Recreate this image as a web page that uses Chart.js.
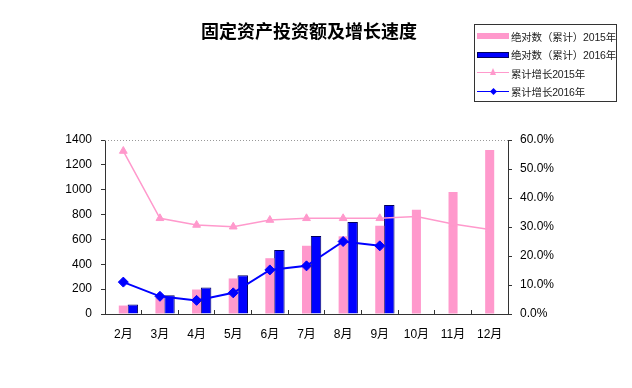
<!DOCTYPE html>
<html>
<head>
<meta charset="utf-8">
<script src="https://cdn.jsdelivr.net/npm/chart.js@4/dist/chart.umd.min.js"></script>
<style>
  body { margin: 0; background: #fff; }
  #wrap { position: relative; width: 632px; height: 388px; }
  #title {
    position: absolute; left: 0; top: 17px; width: 618px; text-align: center;
    font-family: "Noto Sans CJK SC", sans-serif; font-weight: bold; font-size: 18px; color: #000;
  }
  #legend {
    position: absolute; left: 474px; top: 24px; width: 143px; height: 78px;
    border: 1px solid #333; box-sizing: border-box; padding-top: 2px;
    font-family: "Liberation Sans", "Noto Sans CJK SC", sans-serif; font-size: 10.5px; color: #222;
    white-space: nowrap; overflow: hidden;
  }
  .row { height: 18.5px; display: flex; align-items: center; letter-spacing: -0.2px; }
  .sample { position: relative; flex: none; width: 32px; height: 12px; margin-left: 2px; margin-right: 2px; }
  .bar { position: absolute; left: 0; top: 3px; width: 32px; height: 6px; }
  .line { position: absolute; left: 0; top: 5px; width: 32px; height: 1px; }
  .mark { position: absolute; left: 12px; top: 2px; width: 6px; height: 6px; }
</style>
</head>
<body>
<div id="wrap">
  <canvas id="chart" width="632" height="388"></canvas>
  <div id="title">固定资产投资额及增长速度</div>
  <div id="legend"></div>
</div>
<script>
//chart data
var months = ['2月', '3月', '4月', '5月', '6月', '7月', '8月', '9月', '10月', '11月', '12月'];
var abs2015 = [68, 130, 197, 286, 449, 549, 625, 711, 838, 981, 1319];
var abs2016 = [76, 151, 213, 311, 514, 627, 741, 878];
var growth2015 = [56.2, 33.0, 30.7, 30.1, 32.4, 33.0, 33.0, 33.0, 33.6, 31.0, 29.1];
var growth2016 = [11.0, 6.1, 4.7, 7.3, 15.2, 16.6, 25.0, 23.5];

var labels = ['绝对数（累计）2015年', '绝对数（累计）2016年', '累计增长2015年', '累计增长2016年'];
var pink = '#FF99CC';
var blue = '#0000FF';

//empty slot so the 2015 bar sits in the middle of each month
var spacer = months.map(function() { return null; });

var tickFont = { family: '"Liberation Sans", "Noto Sans CJK SC", sans-serif', size: 12 };

//dotted top edge of the plot area
var topEdge = {
    id: 'topEdge',
    beforeDatasetsDraw: function(chart) {
        var ctx = chart.ctx, a = chart.chartArea;
        ctx.save();
        ctx.strokeStyle = '#999';
        ctx.lineWidth = 1;
        ctx.setLineDash([1, 2]);
        ctx.beginPath();
        ctx.moveTo(a.left, a.top + 0.5);
        ctx.lineTo(a.right, a.top + 0.5);
        ctx.stroke();
        ctx.restore();
    }
};

var ctx = document.getElementById('chart').getContext('2d');
var chart = new Chart(ctx, {
    type: 'bar',
    data: {
        labels: months,
        datasets: [{
            label: '',
            data: spacer,
            order: 2
        }, {
            label: labels[0],
            data: abs2015,
            backgroundColor: pink,
            barPercentage: 0.95,
            order: 2
        }, {
            label: labels[1],
            data: abs2016,
            backgroundColor: blue,
            borderColor: '#000060',
            borderWidth: 1,
            borderSkipped: 'bottom',
            barPercentage: 1.1,
            order: 2
        }, {
            type: 'line',
            label: labels[2],
            data: growth2015,
            yAxisID: 'y1',
            borderColor: pink,
            borderWidth: 1.5,
            backgroundColor: pink,
            pointStyle: 'triangle',
            pointRadius: 4.5,
            pointBorderWidth: 1,
            tension: 0,
            order: 1
        }, {
            type: 'line',
            label: labels[3],
            data: growth2016,
            yAxisID: 'y1',
            borderColor: blue,
            borderWidth: 2,
            backgroundColor: blue,
            pointStyle: 'rectRot',
            pointRadius: 5,
            pointBorderWidth: 1,
            tension: 0,
            order: 0
        }]
    },
    options: {
        responsive: false,
        animation: false,
        categoryPercentage: 0.78,
        layout: { padding: { top: 140, left: 0, right: 0, bottom: 0 } },
        plugins: {
            legend: { display: false },
            tooltip: { enabled: false }
        },
        scales: {
            x: {
                grid: { drawOnChartArea: false, tickLength: -4, color: '#333' },
                border: { color: '#333' },
                ticks: { font: tickFont, color: '#000', padding: 17, maxRotation: 0, autoSkip: false },
                afterFit: function(scale) { scale.height = 74; }
            },
            y: {
                min: 0,
                max: 1400,
                ticks: {
                    stepSize: 200,
                    font: tickFont,
                    color: '#000',
                    padding: 9,
                    callback: function(v) { return String(v); }
                },
                grid: { drawOnChartArea: false, tickLength: 4, color: '#333' },
                border: { color: '#333' },
                afterFit: function(scale) { scale.width = 105; }
            },
            y1: {
                position: 'right',
                min: 0,
                max: 60,
                ticks: {
                    stepSize: 10,
                    font: tickFont,
                    color: '#000',
                    padding: 8,
                    callback: function(v) { return v.toFixed(1) + '%'; }
                },
                grid: { drawOnChartArea: false, tickLength: 4, color: '#333' },
                border: { color: '#333' },
                afterFit: function(scale) { scale.width = 124; }
            }
        }
    },
    plugins: [topEdge]
});

//builds the boxed legend in the top right corner
function buildLegend() {
    var box = document.getElementById('legend');
    var kinds = [
        { type: 'bar', color: pink, edge: pink },
        { type: 'bar', color: blue, edge: '#000060' },
        { type: 'line', color: pink, mark: 'tri' },
        { type: 'line', color: blue, mark: 'dia' }
    ];
    for (var i = 0; i < labels.length; i++) {
        var row = document.createElement('div');
        row.className = 'row';
        var sample = document.createElement('div');
        sample.className = 'sample';
        var k = kinds[i];
        if (k.type == 'bar') {
            var b = document.createElement('div');
            b.className = 'bar';
            b.style.background = k.color;
            b.style.border = '1px solid ' + k.edge;
            b.style.boxSizing = 'border-box';
            sample.appendChild(b);
        } else {
            var l = document.createElement('div');
            l.className = 'line';
            l.style.background = k.color;
            sample.appendChild(l);
            var m = document.createElement('div');
            m.className = 'mark';
            if (k.mark == 'tri') {
                m.style.width = '0';
                m.style.height = '0';
                m.style.left = '13px';
                m.style.top = '1px';
                m.style.borderLeft = '3.5px solid transparent';
                m.style.borderRight = '3.5px solid transparent';
                m.style.borderBottom = '7px solid ' + k.color;
            } else {
                m.style.background = k.color;
                m.style.width = '5px';
                m.style.height = '5px';
                m.style.left = '13.5px';
                m.style.top = '3px';
                m.style.transform = 'rotate(45deg)';
            }
            sample.appendChild(m);
        }
        row.appendChild(sample);
        row.appendChild(document.createTextNode(labels[i]));
        box.appendChild(row);
    }
}

buildLegend();
</script>
</body>
</html>
